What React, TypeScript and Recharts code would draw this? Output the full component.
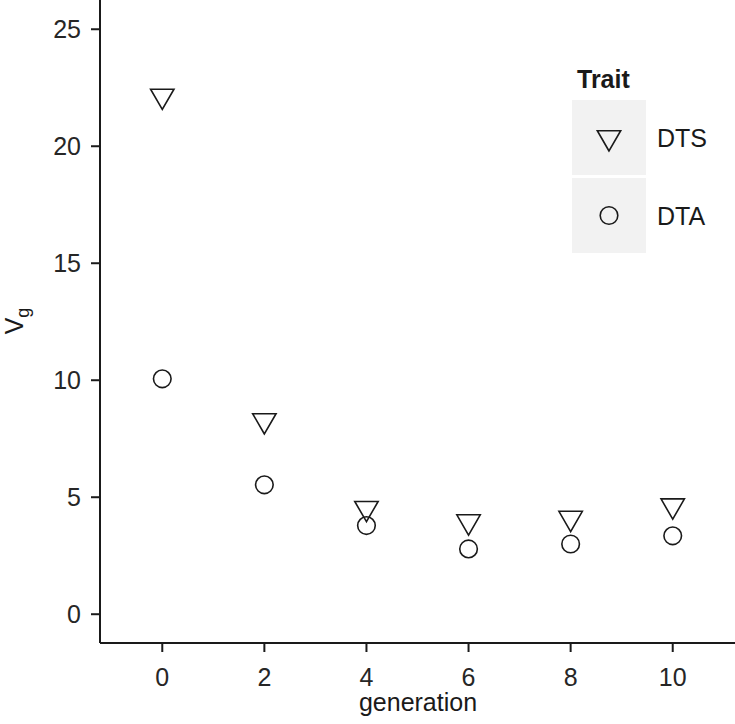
import React from 'react';
import { ScatterChart, Scatter, XAxis, YAxis, Customized } from 'recharts';

const generations = [0, 2, 4, 6, 8, 10];
const dtsValues = [22.15, 8.28, 4.53, 3.96, 4.11, 4.64];
const dtaValues = [10.06, 5.53, 3.79, 2.79, 3.0, 3.35];
const xTicks = [0, 2, 4, 6, 8, 10];
const yTicks = [0, 5, 10, 15, 20, 25];
const traitNames = ['DTS', 'DTA'];
const legendTitle = 'Trait';
const xTitle = 'generation';
const yTitleMain = 'V';
const yTitleSub = 'g';

const dtsData = generations.map((g, i) => ({ generation: g, vg: dtsValues[i] }));
const dtaData = generations.map((g, i) => ({ generation: g, vg: dtaValues[i] }));

const FONT = '"Liberation Sans", Arial, Helvetica, sans-serif';
const INK = '#1a1a1a';
const TEXT = '#262626';

const triPath = (cx: number, cy: number, r: number) => {
  const h = (r * Math.sqrt(3)) / 2;
  return `M${cx},${cy + r} L${cx - h},${cy - r / 2} L${cx + h},${cy - r / 2} Z`;
};

const TriangleDown = (props: any) => {
  const { cx, cy } = props;
  if (cx == null || cy == null) return null;
  return <path d={triPath(cx, cy, 13.5)} fill="none" stroke={INK} strokeWidth={1.6} strokeLinejoin="miter" />;
};

const CircleShape = (props: any) => {
  const { cx, cy } = props;
  if (cx == null || cy == null) return null;
  return <circle cx={cx} cy={cy} r={8.8} fill="none" stroke={INK} strokeWidth={1.6} />;
};

const Decorations = () => {
  return (
    <g>
      {/* y axis title */}
      <text
        x={23}
        y={321}
        transform="rotate(-90, 23, 321)"
        textAnchor="middle"
        fontFamily={FONT}
        fontSize={25}
        fill={INK}
      >
        <tspan>{yTitleMain}</tspan>
        <tspan dy={6} fontSize={18}>{yTitleSub}</tspan>
      </text>
      {/* x axis title */}
      <text x={418} y={711} textAnchor="middle" fontFamily={FONT} fontSize={25} fill={INK}>
        {xTitle}
      </text>
      {/* legend */}
      <text x={577} y={88} fontFamily={FONT} fontSize={25} fontWeight="bold" fill={INK}>
        {legendTitle}
      </text>
      {traitNames.map((name, i) => {
        const top = 100 + i * 78;
        const cy = top + 37.5;
        return (
          <g key={name}>
            <rect x={572} y={top} width={74} height={75} fill="#f2f2f2" />
            {i === 0 ? (
              <path d={triPath(609, cy, 13.5)} fill="none" stroke={INK} strokeWidth={1.6} />
            ) : (
              <circle cx={609} cy={cy} r={8.8} fill="none" stroke={INK} strokeWidth={1.6} />
            )}
            <text x={657} y={cy + 9.5} fontFamily={FONT} fontSize={25} fill={INK}>
              {name}
            </text>
          </g>
        );
      })}
    </g>
  );
};

export default function App() {
  return (
    <div style={{ position: 'absolute', left: 0, top: 0, background: '#fff' }}>
      <ScatterChart width={735} height={724} margin={{ top: 0, right: 0, bottom: 0, left: 0 }}>
        <XAxis
          type="number"
          dataKey="generation"
          domain={[-1.22, 11.22]}
          ticks={xTicks}
          allowDataOverflow
          height={81}
          tickSize={9}
          tickMargin={16}
          axisLine={{ stroke: INK, strokeWidth: 2 }}
          tickLine={{ stroke: INK, strokeWidth: 2 }}
          tick={{ fontSize: 25, fontFamily: FONT, fill: TEXT }}
        />
        <YAxis
          type="number"
          dataKey="vg"
          domain={[-1.23, 26.25]}
          ticks={yTicks}
          allowDataOverflow
          width={100}
          tickSize={9}
          tickMargin={10}
          axisLine={{ stroke: INK, strokeWidth: 2 }}
          tickLine={{ stroke: INK, strokeWidth: 2 }}
          tick={{ fontSize: 25, fontFamily: FONT, fill: TEXT }}
        />
        <Scatter name="DTS" data={dtsData} shape={TriangleDown} isAnimationActive={false} />
        <Scatter name="DTA" data={dtaData} shape={CircleShape} isAnimationActive={false} />
        <Customized component={Decorations} />
      </ScatterChart>
    </div>
  );
}
